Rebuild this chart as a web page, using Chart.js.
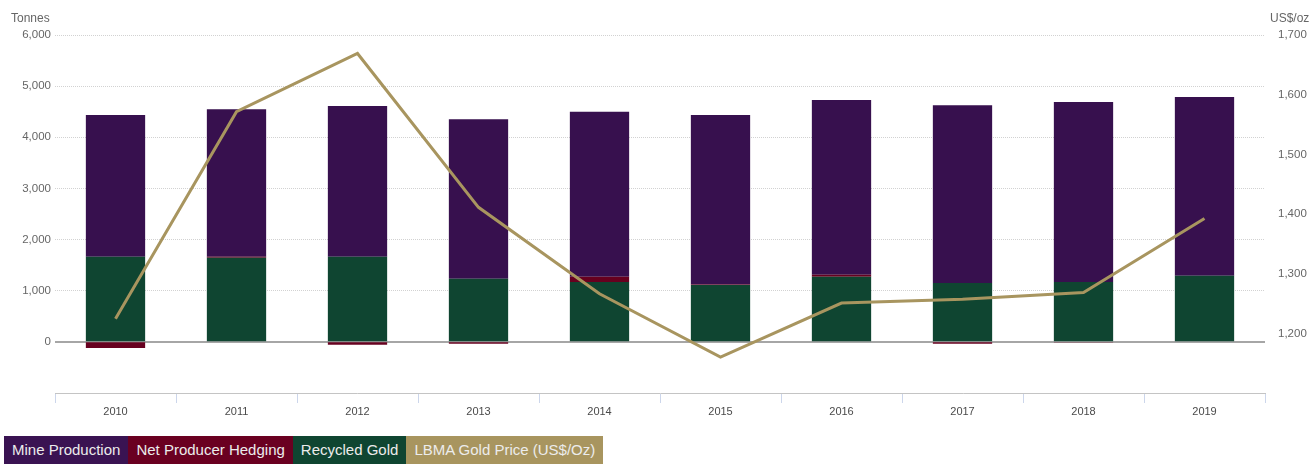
<!DOCTYPE html>
<html>
<head>
<meta charset="utf-8">
<script src="https://cdn.jsdelivr.net/npm/chart.js@4"></script>
<style>
  html, body { margin: 0; padding: 0; background: #ffffff; }
  #wrap { position: relative; width: 1309px; height: 464px; overflow: hidden; }
  #box { position: absolute; left: 0; top: 0; width: 1309px; height: 430px; }
  #legend { position: absolute; left: 4px; top: 436px; height: 28px; display: flex; font-family: "Liberation Sans", Arial, sans-serif; font-size: 15px; }
  #legend span { display: block; height: 28px; line-height: 28px; padding: 0 8px; color: #ececec; white-space: nowrap; }
</style>
</head>
<body>
<div id="wrap">
  <div id="box"><canvas id="c"></canvas></div>
  <div id="legend"></div>
</div>
<script>
const years = ['2010','2011','2012','2013','2014','2015','2016','2017','2018','2019'];
const mineProduction = [2773, 2884, 2949, 3119, 3229, 3313, 3419, 3477, 3523, 3497];
const netProducerHedging = [-120, 20, -55, -35, 104, 13, 39, -35, -15, 0];
const recycledGold = [1663, 1644, 1663, 1233, 1168, 1110, 1272, 1149, 1168, 1292];
const lbmaGoldPrice = [1224.5, 1571.5, 1669.0, 1411.2, 1266.4, 1160.1, 1250.8, 1257.1, 1268.5, 1392.6];
const tonnesTicks = [-1000, 0, 1000, 2000, 3000, 4000, 5000, 6000];
const priceTicks = [1100, 1200, 1300, 1400, 1500, 1600, 1700];
const tonnesTitle = 'Tonnes';
const priceTitle = 'US$/oz';

const colors = {
  mine: '#37104e',
  hedging: '#67001f',
  recycled: '#0f4531',
  gold: '#a8955f'
};

Chart.defaults.font.family = '"Liberation Sans", Arial, sans-serif';
Chart.defaults.color = '#666666';

const legendItems = [
  ['Mine Production', '#3a1352'],
  ['Net Producer Hedging', '#6a0021'],
  ['Recycled Gold', '#0f4531'],
  ['LBMA Gold Price (US$/Oz)', '#a8955f']
];
const lg = document.getElementById('legend');
legendItems.forEach(([t, c]) => {
  const s = document.createElement('span');
  s.textContent = t;
  s.style.background = c;
  lg.appendChild(s);
});

const fmt = v => v.toLocaleString('en-US');

const extras = {
  id: 'extras',
  beforeDatasetsDraw(chart) {
    const { ctx, chartArea, scales } = chart;
    const y0 = Math.round(scales.y.getPixelForValue(0));
    ctx.save();
    ctx.strokeStyle = '#a6a6a6';
    ctx.lineWidth = 2;
    ctx.beginPath();
    ctx.moveTo(chartArea.left, y0);
    ctx.lineTo(chartArea.right, y0);
    ctx.stroke();
    ctx.restore();
  },
  afterDraw(chart) {
    const { ctx, scales } = chart;
    ctx.save();
    ctx.fillStyle = '#666666';
    ctx.font = '12px "Liberation Sans", Arial, sans-serif';
    ctx.textBaseline = 'middle';
    ctx.textAlign = 'left';
    ctx.fillText(tonnesTitle, 11, 19);
    ctx.fillText(priceTitle, scales.y2.left + 5, 19);
    ctx.restore();
  }
};

new Chart(document.getElementById('c'), {
  data: {
    labels: years,
    datasets: [
      {
        type: 'line', label: 'LBMA Gold Price (US$/Oz)', data: lbmaGoldPrice, yAxisID: 'y2',
        borderColor: colors.gold, borderWidth: 3, pointRadius: 0, tension: 0, fill: false, order: 0
      },
      {
        type: 'bar', label: 'Recycled Gold', data: recycledGold, yAxisID: 'y',
        backgroundColor: colors.recycled, stack: 's', order: 1,
        categoryPercentage: 1, barPercentage: 0.49
      },
      {
        type: 'bar', label: 'Net Producer Hedging', data: netProducerHedging, yAxisID: 'y',
        backgroundColor: colors.hedging, stack: 's', order: 1,
        categoryPercentage: 1, barPercentage: 0.49
      },
      {
        type: 'bar', label: 'Mine Production', data: mineProduction, yAxisID: 'y',
        backgroundColor: colors.mine, stack: 's', order: 1,
        categoryPercentage: 1, barPercentage: 0.49
      }
    ]
  },
  options: {
    responsive: true,
    maintainAspectRatio: false,
    animation: false,
    layout: { padding: { top: 35, left: 0, right: 0, bottom: 0 } },
    plugins: { legend: { display: false }, tooltip: { enabled: false } },
    scales: {
      x: {
        stacked: true,
        offset: true,
        grid: { drawOnChartArea: false, drawTicks: true, tickLength: 10, color: '#ccd6eb', offset: true },
        border: { display: true, color: '#c4c4c4', width: 1 },
        ticks: { color: '#4a4a4a', font: { size: 11 }, padding: 2, maxRotation: 0 },
        afterFit(s) { s.height = 37; }
      },
      y: {
        type: 'linear', position: 'left', stacked: true,
        min: -1000, max: 6000,
        afterBuildTicks(s) { s.ticks = tonnesTicks.map(v => ({ value: v })); },
        ticks: { color: '#666666', font: { size: 11.5 }, padding: 4,
          callback: v => (v < 0 ? '' : fmt(v)) },
        grid: { drawTicks: false, lineWidth: 1,
          color: c => (c.tick && c.tick.value > 0 ? '#d2d2d2' : 'rgba(0,0,0,0)') },
        border: { display: false, dash: [1, 1] },
        afterFit(s) { s.width = 55; }
      },
      y2: {
        type: 'linear', position: 'right',
        min: 1100, max: 1700,
        afterBuildTicks(s) { s.ticks = priceTicks.map(v => ({ value: v })); },
        ticks: { color: '#666666', font: { size: 11.5 }, padding: 5,
          callback: v => (v <= 1100 ? '' : fmt(v)) },
        grid: { display: false, drawOnChartArea: false },
        border: { display: false },
        afterFit(s) { s.width = 44; }
      }
    }
  },
  plugins: [extras]
});
</script>
</body>
</html>
